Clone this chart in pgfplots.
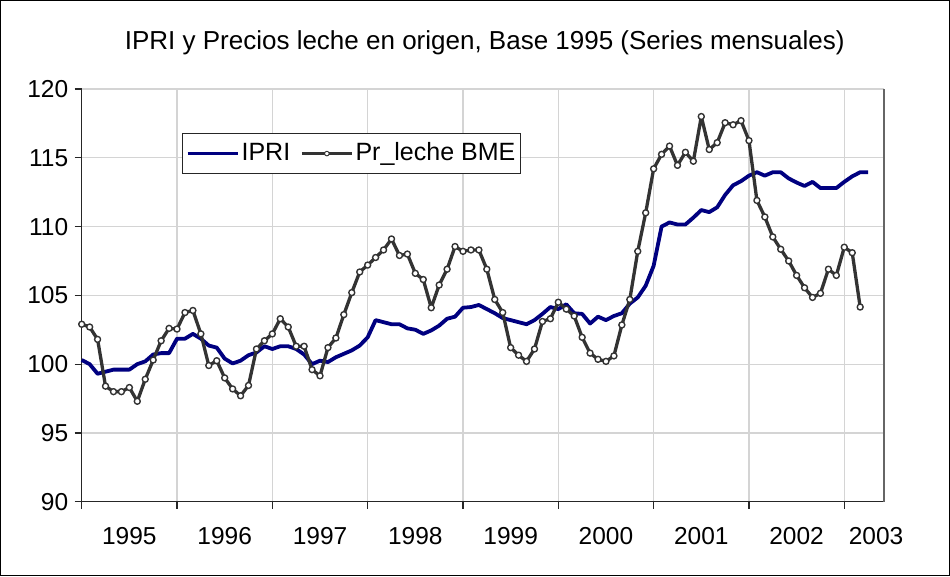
\documentclass[border=0pt]{standalone}
\usepackage{pgfplots}
\pgfplotsset{compat=1.18}
\usepackage{fontspec}
\setmainfont{Liberation Sans}
\definecolor{ipri}{RGB}{0,0,128}
\definecolor{leche}{RGB}{51,51,51}
\definecolor{gridc}{RGB}{212,212,212}
\pgfplotstableread{
i ipri
0 100.3
1 100.0
2 99.3
3 99.45
4 99.6
5 99.6
6 99.6
7 100.0
8 100.2
9 100.7
10 100.8
11 100.8
12 101.85
13 101.85
14 102.2
15 101.85
16 101.35
17 101.2
18 100.4
19 100.05
20 100.25
21 100.65
22 100.85
23 101.3
24 101.1
25 101.3
26 101.3
27 101.1
28 100.7
29 100.0
30 100.25
31 100.15
32 100.5
33 100.75
34 101.0
35 101.35
36 101.95
37 103.2
38 103.05
39 102.9
40 102.9
41 102.6
42 102.5
43 102.2
44 102.45
45 102.8
46 103.3
47 103.45
48 104.1
49 104.15
50 104.3
51 104.0
52 103.7
53 103.35
54 103.2
55 103.05
56 102.9
57 103.2
58 103.65
59 104.15
60 104.0
61 104.35
62 103.7
63 103.65
64 102.95
65 103.45
66 103.2
67 103.5
68 103.7
69 104.4
70 104.85
71 105.7
72 107.15
73 110.0
74 110.3
75 110.15
76 110.15
77 110.65
78 111.2
79 111.05
80 111.4
81 112.3
82 113.0
83 113.3
84 113.7
85 113.95
86 113.7
87 113.95
88 113.95
89 113.5
90 113.2
91 112.95
92 113.25
93 112.8
94 112.8
95 112.8
96 113.25
97 113.65
98 113.95
99 113.95
}\ipritable
\pgfplotstableread{
i leche
0 102.9
1 102.7
2 101.8
3 98.4
4 98.0
5 98.0
6 98.3
7 97.3
8 98.9
9 100.3
10 101.7
11 102.6
12 102.55
13 103.75
14 103.9
15 102.2
16 99.9
17 100.25
18 99.0
19 98.2
20 97.7
21 98.45
22 101.1
23 101.7
24 102.2
25 103.3
26 102.7
27 101.3
28 101.3
29 99.6
30 99.15
31 101.2
32 101.9
33 103.6
34 105.2
35 106.7
36 107.2
37 107.75
38 108.3
39 109.1
40 107.9
41 108.0
42 106.6
43 106.15
44 104.1
45 105.75
46 106.9
47 108.55
48 108.2
49 108.3
50 108.3
51 106.9
52 104.7
53 103.75
54 101.2
55 100.65
56 100.2
57 101.1
58 103.1
59 103.3
60 104.5
61 104.0
62 103.5
63 101.95
64 100.8
65 100.35
66 100.2
67 100.6
68 102.85
69 104.7
70 108.2
71 111.0
72 114.2
73 115.25
74 115.85
75 114.45
76 115.4
77 114.75
78 118.0
79 115.6
80 116.1
81 117.55
82 117.4
83 117.7
84 116.25
85 111.9
86 110.7
87 109.25
88 108.35
89 107.5
90 106.45
91 105.55
92 104.85
93 105.15
94 106.9
95 106.45
96 108.5
97 108.1
98 104.15
}\lechetable
\begin{document}
\fontsize{25}{30}\selectfont
\begin{tikzpicture}[x=1pt,y=1pt]
\useasboundingbox (-81.7,-74.3) rectangle (868.3,501.7);
\draw[black, line width=1pt] (-81.2,-73.8) rectangle (867.8,501.2);
\node[font=\fontsize{26}{30}\selectfont] at (403,458.5) {IPRI y Precios leche en origen, Base 1995 (Series mensuales)};
\begin{axis}[
  at={(0,0)}, anchor=south west,
  scale only axis, width=802.3pt, height=412.7pt,
  xmin=0, xmax=101, ymin=90, ymax=120,
  ytick={90,95,...,120},
  xtick={0,12,...,96}, xticklabels={},
  extra x ticks={6,18,30,42,54,66,78,90,100},
  extra x tick labels={1995,1996,1997,1998,1999,2000,2001,2002,2003},
  extra x tick style={grid=none, major tick length=0pt, xticklabel style={yshift=-17pt}},
  axis lines=left,
  axis line style={-, draw=black!85, line width=1.3pt},
  tick align=outside,
  major tick length=7pt,
  tick style={draw=black!85, line width=1.2pt},
  grid=major,
  major grid style={draw=gridc, line width=1.2pt},
  tick label style={font=\fontsize{24.5}{30}\selectfont},
  /pgf/number format/assume math mode=true,
  yticklabel style={xshift=2pt},
  legend columns=2,
  legend style={at={(0.1254,0.893)}, anchor=north west, draw=black!85, line width=1pt,
    font=\fontsize{25}{30}\selectfont, inner xsep=3pt, inner ysep=7pt,
    /tikz/every even column/.append style={column sep=8pt}},
  legend image code/.code={\draw[#1, mark repeat=2, mark phase=2, mark size=2.3pt, every mark/.append style={line width=0.9pt}] plot coordinates {(0pt,0pt) (25pt,0pt) (50pt,0pt)};},
  clip=false,
]
\addplot[ipri, line width=3.8pt, line join=round] table[x=i, y=ipri] {\ipritable};
\addlegendentry{IPRI}
\addplot[leche, line width=3.3pt, line join=round, mark=*, mark size=3pt,
  mark options={fill=white, draw=leche, line width=1.4pt}] table[x=i, y=leche] {\lechetable};
\addlegendentry{Pr\_leche BME}
\draw[black!60, line width=1.5pt] (rel axis cs:1,0) -- (rel axis cs:1,1);
\end{axis}
\end{tikzpicture}
\end{document}
